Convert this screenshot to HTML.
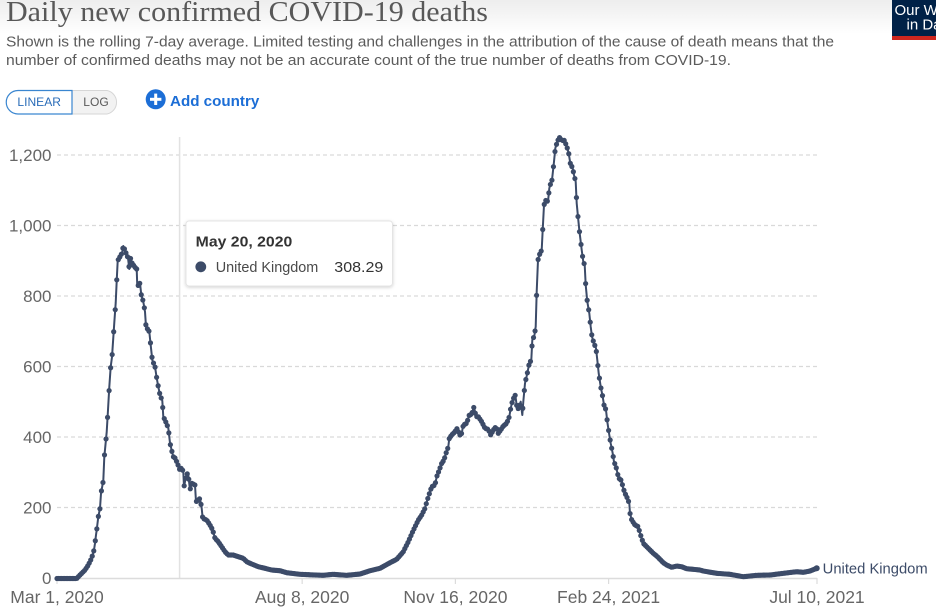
<!DOCTYPE html>
<html><head><meta charset="utf-8">
<style>
html,body{margin:0;padding:0;background:#fff;}
body{width:936px;height:615px;overflow:hidden;position:relative;}
svg{position:absolute;left:0;top:0;}
text{font-family:"Liberation Sans",sans-serif;}
</style></head>
<body>
<svg id="s" width="936" height="615" viewBox="0 0 936 615" xmlns="http://www.w3.org/2000/svg">
<defs>
<linearGradient id="tg" x1="0" y1="0" x2="0" y2="1">
<stop offset="0" stop-color="#000" stop-opacity="0.07"/>
<stop offset="1" stop-color="#000" stop-opacity="0"/>
</linearGradient>
<filter id="sh" x="-10%" y="-20%" width="120%" height="150%">
<feDropShadow dx="0" dy="1" stdDeviation="1.5" flood-color="#000" flood-opacity="0.18"/>
</filter>
</defs>
<rect x="0" y="0" width="936" height="34" fill="url(#tg)"/>
<text x="6" y="21" font-size="29" fill="#585858" textLength="482" lengthAdjust="spacingAndGlyphs" style="font-family:'Liberation Serif',serif">Daily new confirmed COVID-19 deaths</text>
<text x="6" y="46.5" font-size="14.3" fill="#5b5b5b" textLength="828" lengthAdjust="spacingAndGlyphs">Shown is the rolling 7-day average. Limited testing and challenges in the attribution of the cause of death means that the</text>
<text x="6" y="65" font-size="14.3" fill="#5b5b5b" textLength="725" lengthAdjust="spacingAndGlyphs">number of confirmed deaths may not be an accurate count of the true number of deaths from COVID-19.</text>

<!-- logo -->
<rect x="892" y="0" width="44" height="36" fill="#002147"/>
<rect x="892" y="36" width="44" height="4" fill="#ce261e"/>
<text x="894.5" y="15" font-size="15" fill="#fff">Our World</text>
<text x="906.5" y="29.5" font-size="15" fill="#fff">in Data</text>

<!-- toggle -->
<path d="M72,90.5 H107 A12,12 0 0 1 107,114 H72 Z" fill="#f2f2f2" stroke="#d6d6d6" stroke-width="1"/>
<path d="M72,90.5 H18 A11.75,11.75 0 0 0 18,114 H72 Z" fill="#fff" stroke="#3a86d0" stroke-width="1.2"/>
<text x="39.2" y="106" font-size="12" fill="#2a6cb8" text-anchor="middle" textLength="43.5" lengthAdjust="spacingAndGlyphs">LINEAR</text>
<text x="96" y="106" font-size="12" fill="#5a5a5a" text-anchor="middle" textLength="25.4" lengthAdjust="spacingAndGlyphs">LOG</text>

<!-- add country -->
<circle cx="155.7" cy="99.3" r="10" fill="#1c6ed6"/>
<rect x="150" y="97.8" width="11.4" height="3" fill="#fff"/>
<rect x="154.2" y="93.6" width="3" height="11.4" fill="#fff"/>
<text x="170" y="106" font-size="15" font-weight="bold" fill="#1c6ed6" textLength="89.3" lengthAdjust="spacingAndGlyphs">Add country</text>

<g id="grid"></g>
<line x1="179.6" y1="137" x2="179.6" y2="578" stroke="#e2e2e2" stroke-width="1.5"/>
<line x1="57" y1="578.5" x2="817" y2="578.5" stroke="#dcdcdc" stroke-width="1.5"/>
<g id="ticks" stroke="#dcdcdc" stroke-width="1.2"></g>
<g id="xl" font-size="17.5" fill="#666" text-anchor="middle"></g>
<g id="series"></g>
<text x="822.7" y="573.5" font-size="14.7" fill="#3c4b68" textLength="105" lengthAdjust="spacingAndGlyphs">United Kingdom</text>

<!-- tooltip -->
<rect x="186" y="221" width="206.5" height="65" rx="3" fill="#fff" stroke="#e4e4e4" stroke-width="1" filter="url(#sh)"/>
<text x="195.7" y="246.5" font-size="15" font-weight="bold" fill="#333" textLength="96.6" lengthAdjust="spacingAndGlyphs">May 20, 2020</text>
<circle cx="200.8" cy="266.8" r="5.4" fill="#3c4b68"/>
<text x="215.7" y="272" font-size="14.5" fill="#4a4a4a" textLength="102.6" lengthAdjust="spacingAndGlyphs">United Kingdom</text>
<text x="383.3" y="272" font-size="15" fill="#333" text-anchor="end" textLength="49" lengthAdjust="spacingAndGlyphs">308.29</text>
</svg>
<script>
(function(){
var NS="http://www.w3.org/2000/svg";
function el(t,a,p){var e=document.createElementNS(NS,t);for(var k in a)e.setAttribute(k,a[k]);p.appendChild(e);return e;}
var grid=document.getElementById('grid');
var vals=[0,200,400,600,800,1000,1200];
vals.forEach(function(v){
 var y=578-v*0.3525;
 if(v>0) el('line',{x1:57,y1:y,x2:818,y2:y,stroke:'#d9d9d9','stroke-width':1.2,'stroke-dasharray':'4,3'},grid);
 var t=el('text',{x:51.5,y:y+6,'font-size':17,fill:'#666','text-anchor':'end'},grid);
 t.textContent=v===0?'0':v.toLocaleString('en-US');
});
var ticks=document.getElementById('ticks'),xl=document.getElementById('xl');
[[0,'Mar 1, 2020'],[160,'Aug 8, 2020'],[260,'Nov 16, 2020'],[360,'Feb 24, 2021'],[496,'Jul 10, 2021']].forEach(function(d){
 var x=57+d[0]*760/496;
 el('line',{x1:x,y1:578,x2:x,y2:584},ticks);
 var t=el('text',{x:x,y:603},xl);t.textContent=d[1];
});
var P=[[57,578.5],[76.7,578.5],[80,575],[85,570],[88.3,565],[90.7,560],[92.7,555],[94,550],[95,543.3],[96,535],[96.7,530],[98.3,516.7],[100,508.3],[101,493.3],[103.3,480.7],[104.3,457],[106.7,432],[108,410],[109.3,387],[110.7,366.7],[112,357],[114.3,322.7],[115.7,303],[116.7,281],[117.7,260.7],[120,256.7],[122,253],[123.3,246],[126,253],[128,258],[129.3,269],[130,256.7],[132,263],[134.7,267],[136.7,269],[137.3,286.7],[140,283],[141.3,295],[143.3,301.7],[145,311.7],[146,326.7],[149.3,331.7],[151,348],[152.3,360],[155,366.7],[156.7,378],[158.3,386.7],[160,395],[162.3,400.7],[163.3,416.7],[165,420],[168.3,428],[170,443],[172,451.7],[173.3,456.7],[175,458],[177.3,463],[179.6,469.3],[181.7,468],[183.3,471.7],[184,486.7],[186.7,473.3],[188.3,475],[190,490],[191.7,483.3],[195,485],[196,501.7],[198.3,500],[200,498.3],[201.7,508.3],[202.7,518.3],[206.7,520],[210,525],[212.7,530],[215,538.3],[218.3,541.7],[221.7,546.7],[225,551.7],[228.3,555],[233.3,555],[238.3,556.7],[243.3,558.3],[246.7,561.7],[251.7,564],[258.3,566.7],[265,568.3],[271.7,570],[280,570.7],[286.7,572.7],[300,574.3],[323,575.3],[333,574.3],[346.7,575.3],[360,574],[370,570.7],[380,568.3],[390,562.7],[396.7,559.3],[403.3,551.7],[408.3,541.7],[413,531],[418.3,520],[421.7,515],[425,508.3],[427.3,500],[430,491.7],[431.7,486.7],[435,485],[436.7,476.7],[439.3,470],[441.7,463.3],[444,460],[446,453.3],[448.3,446.7],[449.3,438.3],[451.7,435],[455,431.7],[456.7,428.3],[460,435],[461.7,433.3],[463.3,425],[466.7,423.3],[469.3,415],[471.7,414.3],[474,406.7],[476,416.7],[478.3,416.7],[481.7,421.7],[485,428.3],[488.3,429.3],[490.7,435],[493.3,430],[496,426.7],[498.3,433.3],[500.7,430],[503.3,426],[506.7,423.3],[509.3,416.7],[510.7,408.3],[512.7,400],[515.3,395],[517.3,410],[519.3,406.7],[520.7,401.7],[522.3,415],[523.3,401.7],[525,383.3],[527.3,373.3],[529.3,363.3],[531.3,360],[532.3,340],[534.3,336],[535.7,326.7],[536.7,291.7],[538,260],[539.3,255],[541.7,250],[542.7,230],[544,205],[546,200],[548,201.7],[549.3,188.3],[550.7,183.3],[552,180],[554,161.7],[555.3,148.3],[557.3,141.7],[559.3,137.3],[562,140.7],[564,140],[566.7,146],[568.7,153.3],[570.3,163.3],[572.7,168.3],[574,175],[575.7,181.7],[576.7,203.3],[578.3,220],[579.3,230],[581.7,250],[583.3,261.7],[584.7,265],[585.7,285],[587.3,301.7],[589.3,313.3],[590.7,326.7],[592,336.7],[594,343.3],[596,348.3],[597.3,360],[598.7,373.3],[600.7,386.7],[602.7,396.7],[604,405],[606,410],[607.3,421.7],[609.3,435],[610.7,443.3],[612.7,453.3],[614,461.7],[616,466.7],[618.3,476.7],[620,480],[621.7,480],[622.7,486.7],[625,493.3],[626.7,496.7],[629.3,503.3],[630,513.3],[631.7,520],[635,525],[638.3,526.7],[640,533.3],[641.7,538.3],[643.3,543.3],[646.7,546.7],[650,550],[653.3,553.3],[656.7,556],[660,559.3],[663.3,562.7],[666.7,565],[671.7,567.3],[676.7,566],[681.7,566.7],[686.7,568.7],[693.3,569.3],[700,570],[703.3,571],[716.7,573.3],[730,574.3],[743.3,576.7],[756.7,575.3],[770,575],[783.3,573.3],[796.7,571.7],[803.3,572.3],[810,571],[816.7,568.3]];
var s=document.getElementById('series');
var col='#3c4b68';
el('polyline',{points:P.map(function(p){return p.join(',');}).join(' '),fill:'none',stroke:col,'stroke-width':2,'stroke-linejoin':'round'},s);
function yAt(x){
 for(var i=0;i<P.length-1;i++){
  if(x>=P[i][0]&&x<=P[i+1][0]){var a=P[i],b=P[i+1];var t=(b[0]-a[0])?(x-a[0])/(b[0]-a[0]):0;return a[1]+t*(b[1]-a[1]);}
 }
 return P[P.length-1][1];
}
for(var d=0;d<=496;d++){
 var x=57+d*760/496;
 el('circle',{cx:x.toFixed(2),cy:yAt(x).toFixed(2),r:2.6,fill:col},s);
}
el('circle',{cx:816.7,cy:568.3,r:3,fill:col},s);
})();
</script>
</body></html>
